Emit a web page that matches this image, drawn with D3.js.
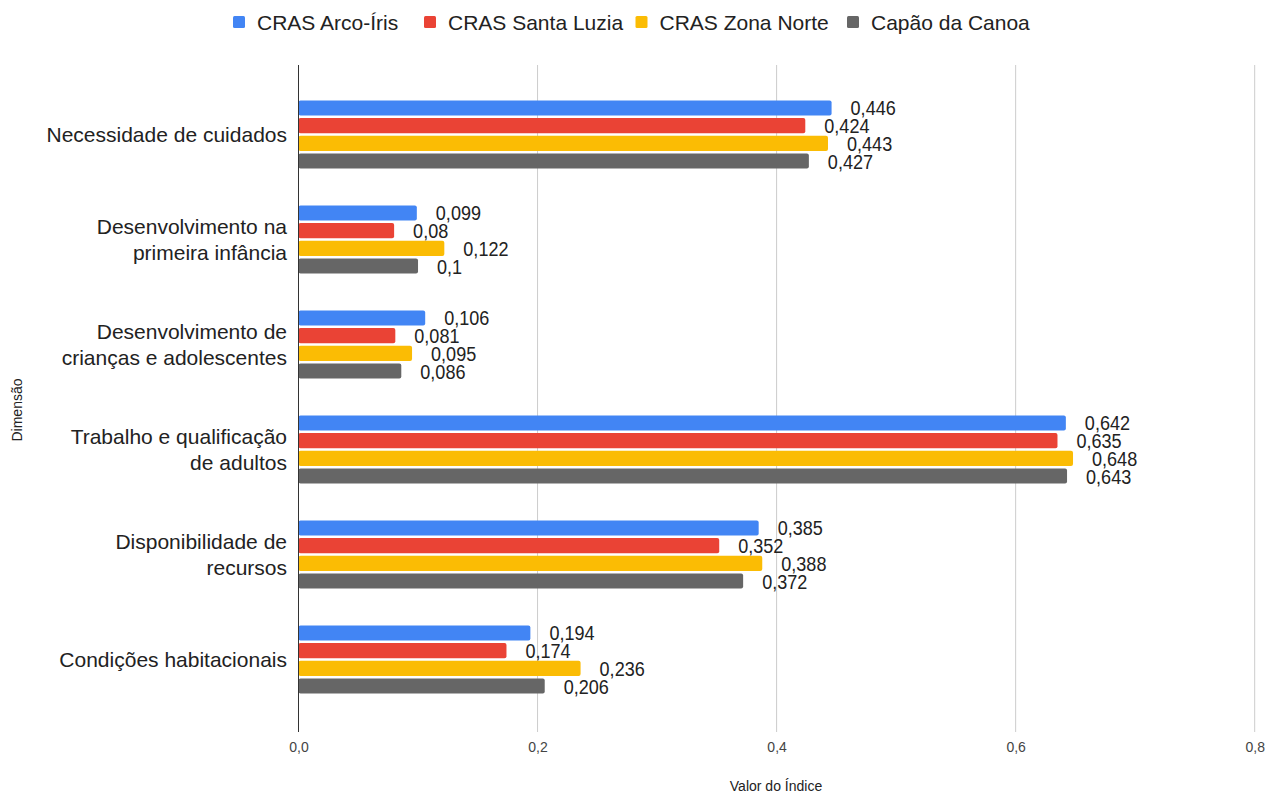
<!DOCTYPE html>
<html><head><meta charset="utf-8">
<script src="https://cdn.jsdelivr.net/npm/d3@7"></script>
<style>body{margin:0;background:#fff;font-family:"Liberation Sans",Arial,sans-serif}</style>
</head><body><svg id="c" width="1266" height="793"></svg>
<script>
const categories = [
  ["Necessidade de cuidados"],
  ["Desenvolvimento na", "primeira infância"],
  ["Desenvolvimento de", "crianças e adolescentes"],
  ["Trabalho e qualificação", "de adultos"],
  ["Disponibilidade de", "recursos"],
  ["Condições habitacionais"]
];
const seriesNames = ["CRAS Arco-Íris", "CRAS Santa Luzia", "CRAS Zona Norte", "Capão da Canoa"];
const arcoIris   = [0.446, 0.099, 0.106, 0.642, 0.385, 0.194];
const santaLuzia = [0.424, 0.08, 0.081, 0.635, 0.352, 0.174];
const zonaNorte  = [0.443, 0.122, 0.095, 0.648, 0.388, 0.236];
const capao      = [0.427, 0.1, 0.086, 0.643, 0.372, 0.206];
const xTicks = [0, 0.2, 0.4, 0.6, 0.8];
const colors = ["#4285F4", "#EA4335", "#FBBC04", "#666666"];

const FONT = "'Liberation Sans', Arial, sans-serif";
const series = [arcoIris, santaLuzia, zonaNorte, capao];
const svg = d3.select("#c");
const catKeys = categories.map(c => c.join(" "));

const x = d3.scaleLinear().domain([0, 0.8]).range([298.5, 1254.7]);
const y = d3.scaleBand().domain(catKeys).range([82, 712]).paddingInner(1/3).paddingOuter(1/6);
const ys = d3.scaleBand().domain(d3.range(4)).range([0, y.bandwidth()]).paddingInner(0.15).paddingOuter(0.05);

const fmt = v => String(v).replace(".", ",");

// x axis tick labels
const xAxis = d3.axisBottom(x).tickValues(xTicks).tickSize(0).tickFormat(d => d3.format(".1f")(d).replace(".", ","));
const gx = svg.append("g").attr("transform", "translate(0,732)").call(xAxis);
gx.select(".domain").remove();
gx.selectAll("text").attr("dy", "0.36em").attr("y", 15).attr("font-family", FONT).attr("font-size", 14).attr("fill", "#444");

// gridlines
svg.append("g").selectAll("line").data(xTicks.filter(d => d > 0)).join("line")
  .attr("x1", d => x(d)).attr("x2", d => x(d)).attr("y1", 65).attr("y2", 732)
  .attr("stroke", "#cccccc").attr("stroke-width", 1);

// bars
const groups = svg.append("g").selectAll("g").data(catKeys).join("g")
  .attr("transform", d => `translate(0,${y(d)})`);
groups.each(function(k, ci) {
  const g = d3.select(this);
  series.forEach((s, si) => {
    g.append("rect")
      .attr("x", x(0)).attr("y", ys(si))
      .attr("width", x(s[ci]) - x(0)).attr("height", ys.bandwidth())
      .attr("rx", 2).attr("fill", colors[si]);
    g.append("text")
      .attr("transform", `translate(${x(s[ci]) + 19},${ys(si) + ys.bandwidth() / 2}) scale(0.86,1)`)
      .attr("dy", "0.36em")
      .attr("font-family", FONT).attr("font-size", 21)
      .attr("fill", "#222").text(fmt(s[ci]));
  });
});

// y axis line
svg.append("line").attr("x1", x(0)).attr("x2", x(0)).attr("y1", 65).attr("y2", 732)
  .attr("stroke", "#333").attr("stroke-width", 1);

// category labels
categories.forEach((lines, i) => {
  const cy = y(catKeys[i]) + y.bandwidth() / 2;
  const lh = 26;
  const t = svg.append("text").attr("text-anchor", "end")
    .attr("font-family", FONT).attr("font-size", 21).attr("fill", "#222");
  lines.forEach((ln, j) => {
    t.append("tspan").attr("x", 287)
      .attr("y", cy + (j - (lines.length - 1) / 2) * lh)
      .attr("dy", "0.36em").text(ln);
  });
});

// axis titles
svg.append("text").attr("transform", "translate(22,410) rotate(-90)")
  .attr("text-anchor", "middle").attr("font-family", FONT)
  .attr("font-size", 14).attr("fill", "#222").text("Dimensão");
svg.append("text").attr("x", 776).attr("y", 791)
  .attr("text-anchor", "middle").attr("font-family", FONT)
  .attr("font-size", 14).attr("fill", "#222").text("Valor do Índice");

// legend
const legX = [233, 424, 635.5, 847];
const leg = svg.append("g");
seriesNames.forEach((n, i) => {
  leg.append("rect").attr("x", legX[i]).attr("y", 16).attr("width", 12).attr("height", 12)
    .attr("rx", 1.5).attr("fill", colors[i]);
  leg.append("text").attr("x", legX[i] + 24).attr("y", 22).attr("dy", "0.36em")
    .attr("font-family", FONT).attr("font-size", 21)
    .attr("fill", "#222").text(n);
});
</script></body></html>
